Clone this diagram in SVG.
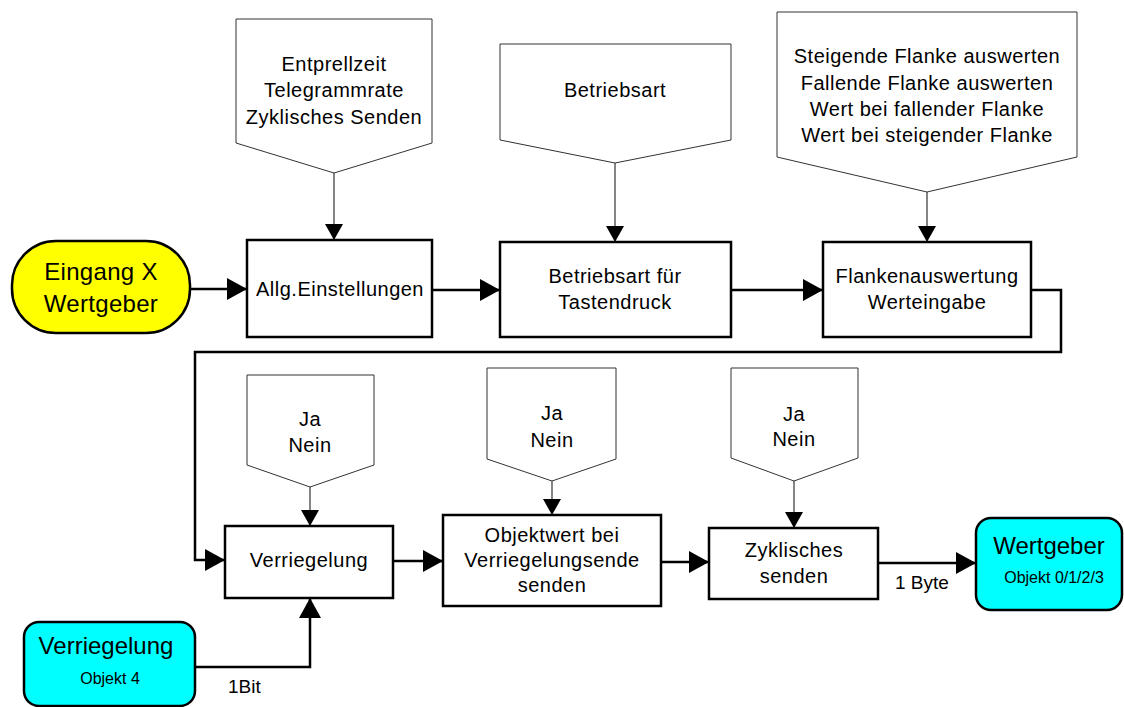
<svg xmlns="http://www.w3.org/2000/svg" width="1124" height="707" viewBox="0 0 1124 707">
<defs>
<style>
text{font-family:"Liberation Sans",Arial,sans-serif;fill:#000;text-anchor:middle}
.t{font-size:20px;letter-spacing:0.5px}
.big{font-size:24px}
.sm{font-size:16px}
.lbl{font-size:19px;text-anchor:start}
.box{fill:#fff;stroke:#000;stroke-width:2.5}
.pent{fill:#fff;stroke:#333;stroke-width:1}
.c{fill:none;stroke:#000;stroke-width:2.5}
.cp{fill:none;stroke:#333;stroke-width:1.2}
</style>
<marker id="ab" markerUnits="userSpaceOnUse" markerWidth="20" markerHeight="22" refX="20" refY="11" orient="auto"><path d="M0,0 L20,11 L0,22 Z" fill="#000"/></marker>
<marker id="as" markerUnits="userSpaceOnUse" markerWidth="16" markerHeight="18" refX="16" refY="9" orient="auto"><path d="M0,0 L16,9 L0,18 Z" fill="#000"/></marker>
</defs>
<rect width="1124" height="707" fill="#fff"/>

<g id="connectors">
<path class="c" d="M190,289 L247,289" marker-end="url(#ab)"/>
<path class="c" d="M432,290 L500,290" marker-end="url(#ab)"/>
<path class="c" d="M731,290 L823,290" marker-end="url(#ab)"/>
<path class="c" d="M1031,290 L1061,290 L1061,352 L195,352 L195,560 L225,560" marker-end="url(#ab)"/>
<path class="c" d="M393,561 L443,561" marker-end="url(#ab)"/>
<path class="c" d="M661,562 L709,562" marker-end="url(#ab)"/>
<path class="c" d="M878,563 L976,563" marker-end="url(#ab)"/>
<path class="c" d="M195,667 L310,667 L310,598" marker-end="url(#ab)"/>
<path class="cp" d="M334,173 L334,240" marker-end="url(#as)"/>
<path class="cp" d="M615,163 L615,242" marker-end="url(#as)"/>
<path class="cp" d="M927,192 L927,242" marker-end="url(#as)"/>
<path class="cp" d="M310,487 L310,526" marker-end="url(#as)"/>
<path class="cp" d="M552,481 L552,515" marker-end="url(#as)"/>
<path class="cp" d="M794,481 L794,528" marker-end="url(#as)"/>
<text class="lbl" x="895" y="589">1 Byte</text>
<text class="lbl" x="228" y="693">1Bit</text>
</g>

<g id="eingang">
<rect x="12" y="241" width="178" height="92" rx="44" ry="44" fill="#ffff00" stroke="#000" stroke-width="2.5"/>
<text class="big" x="101" y="280" letter-spacing="0.3">Eingang X</text>
<text class="big" x="101" y="312" letter-spacing="0.3">Wertgeber</text>
</g>

<g id="allg">
<rect class="box" x="247" y="240" width="185" height="97"/>
<text class="t" x="340" y="296">Allg.Einstellungen</text>
</g>

<g id="betriebsart-box">
<rect class="box" x="500" y="242" width="231" height="95"/>
<text class="t" x="615" y="283">Betriebsart für</text>
<text class="t" x="615" y="309">Tastendruck</text>
</g>

<g id="flanken-box">
<rect class="box" x="823" y="242" width="208" height="95"/>
<text class="t" x="927" y="283">Flankenauswertung</text>
<text class="t" x="927" y="309">Werteingabe</text>
</g>

<g id="param1">
<polygon class="pent" points="236,19 432,19 432,143 334,173 236,143"/>
<text class="t" x="334" y="71">Entprellzeit</text>
<text class="t" x="334" y="97">Telegrammrate</text>
<text class="t" x="334" y="124">Zyklisches Senden</text>
</g>

<g id="param2">
<polygon class="pent" points="500,44 731,44 731,140 615,163 500,140"/>
<text class="t" x="615" y="97">Betriebsart</text>
</g>

<g id="param3">
<polygon class="pent" points="777,12 1077,12 1077,157 927,192 777,157"/>
<text class="t" x="927" y="63">Steigende Flanke auswerten</text>
<text class="t" x="927" y="90">Fallende Flanke auswerten</text>
<text class="t" x="927" y="116">Wert bei fallender Flanke</text>
<text class="t" x="927" y="142">Wert bei steigender Flanke</text>
</g>

<g id="param4">
<polygon class="pent" points="247,375 374,375 374,465 310,487 247,465"/>
<text class="t" x="310" y="426">Ja</text>
<text class="t" x="310" y="452">Nein</text>
</g>

<g id="param5">
<polygon class="pent" points="487,368 616,368 616,459 552,481 487,459"/>
<text class="t" x="552" y="420">Ja</text>
<text class="t" x="552" y="447">Nein</text>
</g>

<g id="param6">
<polygon class="pent" points="731,368 858,368 858,458 794,481 731,458"/>
<text class="t" x="794" y="421">Ja</text>
<text class="t" x="794" y="446">Nein</text>
</g>

<g id="verriegelung-box">
<rect class="box" x="225" y="526" width="168" height="72"/>
<text class="t" x="309" y="567">Verriegelung</text>
</g>

<g id="objektwert">
<rect class="box" x="443" y="515" width="218" height="91"/>
<text class="t" x="552" y="542">Objektwert bei</text>
<text class="t" x="552" y="567">Verriegelungsende</text>
<text class="t" x="552" y="592">senden</text>
</g>

<g id="zyklisch">
<rect class="box" x="709" y="528" width="169" height="71"/>
<text class="t" x="794" y="557">Zyklisches</text>
<text class="t" x="794" y="583">senden</text>
</g>

<g id="wertgeber-obj">
<rect x="976" y="518" width="146" height="92" rx="15" ry="15" fill="#00ffff" stroke="#000" stroke-width="2.5"/>
<text class="big" x="1049" y="554">Wertgeber</text>
<text class="sm" x="1054" y="583">Objekt 0/1/2/3</text>
</g>

<g id="verriegelung-obj">
<rect x="24" y="622" width="171" height="84" rx="15" ry="15" fill="#00ffff" stroke="#000" stroke-width="2.5"/>
<text class="big" x="106" y="654">Verriegelung</text>
<text class="sm" x="110" y="684">Objekt 4</text>
</g>
</svg>
